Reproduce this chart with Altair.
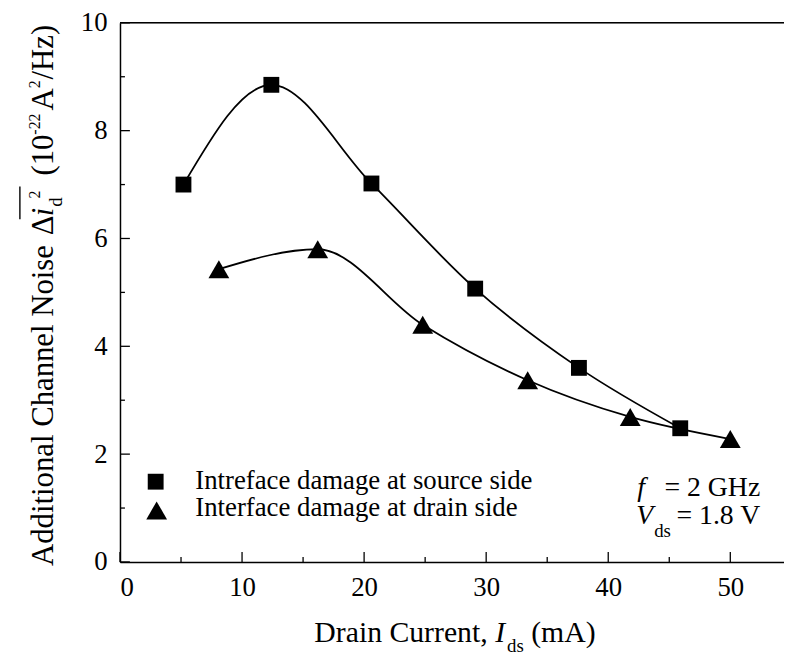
import altair as alt
import pandas as pd

# ---- data ----
src_x = [5.2, 12.4, 20.6, 29.1, 37.6, 45.9]
src_y = [7.0, 8.85, 7.02, 5.07, 3.6, 2.48]
drn_x = [8.1, 16.2, 24.8, 33.4, 41.8, 50.0]
drn_y = [5.43, 5.8, 4.4, 3.37, 2.69, 2.28]

x_major = [0, 10, 20, 30, 40, 50]
x_minor = [5, 15, 25, 35, 45]
y_major = [0, 2, 4, 6, 8, 10]
y_minor = [1, 3, 5, 7, 9]

legend_labels = ["Intreface damage at source side", "Interface damage at drain side"]

W, H = 670, 544
XMAX = 54.4
FONT = "Liberation Serif, Times New Roman, serif"
TICK_FS = 27
LEG_FS = 27
ANN_FS = 28
TITLE_FS = 31
SUB_FS = 19
SUP_FS = 16

# Times-like advance widths (em) used only to lay out composite titles
TW = {" ": .25, "A": .722, "C": .667, "D": .722, "N": .722, "H": .722, "I": .333,
      "a": .444, "d": .5, "e": .444, "h": .5, "i": .278, "l": .278, "n": .5, "o": .5,
      "s": .389, "t": .278, "u": .5, "r": .333, "c": .444, "z": .444, "m": .778,
      "(": .333, ")": .333, "/": .278, "-": .333, ",": .25, "\u0394": .612,
      "0": .5, "1": .5, "2": .5}


def tw(s, size):
    return sum(TW.get(ch, .5) for ch in s) * size


src = pd.DataFrame({"x": src_x, "y": src_y})
drn = pd.DataFrame({"x": drn_x, "y": drn_y})

xs = alt.Scale(domain=[0, XMAX], nice=False, zero=False)
ys = alt.Scale(domain=[0, 10], nice=False, zero=False)

xaxis = alt.Axis(values=x_major, title=None, labelFont=FONT, labelFontSize=TICK_FS,
                 labelColor="black", domainColor="black", domainWidth=1.5,
                 ticks=False, grid=False, labelPadding=13)
yaxis = alt.Axis(values=y_major, title=None, labelFont=FONT, labelFontSize=TICK_FS,
                 labelColor="black", domainColor="black", domainWidth=1.5,
                 ticks=False, grid=False, labelPadding=13)

X = alt.X("x:Q", scale=xs, axis=xaxis)
Y = alt.Y("y:Q", scale=ys, axis=yaxis)

line_src = alt.Chart(src).mark_line(interpolate="monotone", color="black", strokeWidth=1.8).encode(x=X, y=Y)
line_drn = alt.Chart(drn).mark_line(interpolate="monotone", color="black", strokeWidth=1.8).encode(x=X, y=Y)
pt_src = alt.Chart(src).mark_point(shape="square", filled=True, size=256, color="black", opacity=1).encode(x=X, y=Y)
pt_drn = alt.Chart(drn).mark_point(shape="triangle-up", filled=True, size=441, color="black", opacity=1).encode(x=X, y=Y)

# inward ticks
xt_major = alt.Chart(pd.DataFrame({"x": x_major})).mark_rule(color="black", strokeWidth=1.3).encode(
    x=X, y=alt.value(H), y2=alt.value(H - 10))
xt_minor = alt.Chart(pd.DataFrame({"x": x_minor})).mark_rule(color="black", strokeWidth=1.3).encode(
    x=X, y=alt.value(H), y2=alt.value(H - 5))
yt_major = alt.Chart(pd.DataFrame({"y": y_major})).mark_rule(color="black", strokeWidth=1.3).encode(
    y=Y, x=alt.value(0), x2=alt.value(10))
yt_minor = alt.Chart(pd.DataFrame({"y": y_minor})).mark_rule(color="black", strokeWidth=1.3).encode(
    y=Y, x=alt.value(0), x2=alt.value(5))
top_line = alt.Chart(pd.DataFrame({"a": [0]})).mark_rule(color="black", strokeWidth=1.5).encode(
    x=alt.value(0), x2=alt.value(W), y=alt.value(0))


def txt(s, x, y, size, style="normal", angle=0, align="left"):
    return alt.Chart(pd.DataFrame({"t": [s]})).mark_text(
        font=FONT, fontSize=size, fontStyle=style, angle=angle, align=align,
        baseline="alphabetic", color="black").encode(
        x=alt.value(x), y=alt.value(y), text="t:N")


# legend
leg_sq = alt.Chart(pd.DataFrame({"a": [0]})).mark_point(shape="square", filled=True, size=256, color="black", opacity=1).encode(
    x=alt.value(36), y=alt.value(463))
leg_tr = alt.Chart(pd.DataFrame({"a": [0]})).mark_point(shape="triangle-up", filled=True, size=441, color="black", opacity=1).encode(
    x=alt.value(37), y=alt.value(492))
leg_t1 = txt(legend_labels[0], 76, 470, LEG_FS)
leg_t2 = txt(legend_labels[1], 76, 498, LEG_FS)

# annotation (f = 2 GHz, Vds = 1.8 V)
ann = [
    txt("f", 522, 477, ANN_FS, style="italic"),
    txt("= 2 GHz", 646, 477, ANN_FS, align="right"),
    txt("V", 521, 506, ANN_FS, style="italic"),
    txt("ds", 539, 519, SUB_FS),
    txt("= 1.8 V", 646, 506, ANN_FS, align="right"),
]

# x title: Drain Current, I_ds (mA)
XT = 30
xt_base = 625
p1, p2, p3, p4 = "Drain Current,", "I", "ds", "(mA)"
sp = tw(" ", XT)
w1 = tw(p1, XT) + sp
w2 = tw(p2, XT) + 2
w3 = tw(p3, SUB_FS) + sp
total = w1 + w2 + w3 + tw(p4, XT)
x0 = 338 - total / 2
xtitle = [
    txt(p1, x0, xt_base, XT),
    txt(p2, x0 + w1, xt_base, XT, style="italic"),
    txt(p3, x0 + w1 + w2, xt_base + 10, SUB_FS),
    txt(p4, x0 + w1 + w2 + w3, xt_base, XT),
]

# y title (rotated, reading bottom-to-top)
bx = -68
F, S, P = TITLE_FS, SUB_FS, SUP_FS
yy = 548
ytitle = []
ytitle.append(txt("Additional Channel Noise", bx, yy, F, angle=270))
yy -= tw("Additional Channel Noise", F) + 10
ytitle.append(txt("\u0394", bx, yy, F, angle=270))
yy -= tw("\u0394", F)
ytitle.append(txt("i", bx, yy, F, style="italic", angle=270))
y_i0 = yy
yy -= tw("i", F) + 1
ytitle.append(txt("d", bx + 9, yy, S, angle=270))
yy -= tw("d", S) - 1
ytitle.append(txt("2", bx - 13, yy, P, angle=270))
yy -= tw("2", P) + 15
ytitle.append(txt("(10", bx, yy, F, angle=270))
yy -= tw("(10", F)
ytitle.append(txt("-22", bx - 13, yy, P, angle=270))
yy -= tw("-22", P) + 3
ytitle.append(txt("A", bx, yy, F, angle=270))
yy -= tw("A", F)
ytitle.append(txt("2", bx - 13, yy, P, angle=270))
yy -= tw("2", P) + 1
ytitle.append(txt("/Hz)", bx, yy, F, angle=270))

overline = alt.Chart(pd.DataFrame({"a": [0]})).mark_rule(color="black", strokeWidth=1.4).encode(
    x=alt.value(bx - 33), y=alt.value(y_i0 + 3), y2=alt.value(y_i0 - 30))

layers = [line_src, line_drn, pt_src, pt_drn, xt_major, xt_minor, yt_major, yt_minor, top_line,
          leg_sq, leg_tr, leg_t1, leg_t2, overline] + ann + xtitle + ytitle

chart = alt.layer(*layers).properties(
    width=W, height=H,
    autosize=alt.AutoSizeParams(type="none"),
    padding={"left": 113, "top": 12, "right": 0, "bottom": 100},
).configure_view(stroke=None).configure(background="white")

chart.save("out.html", embed_options={"renderer": "svg", "actions": False})
